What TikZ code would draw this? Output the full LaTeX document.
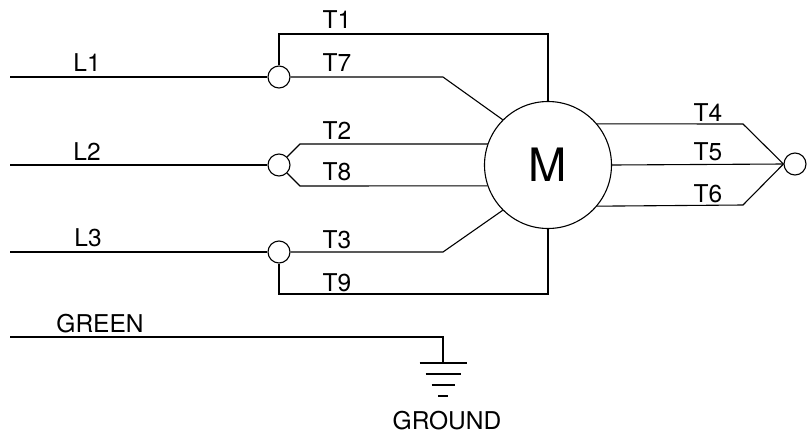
\documentclass[tikz,border=0pt]{standalone}
\usepackage{fontspec}
\setmainfont{TeX Gyre Heros}
\usepackage{tikz}
\tikzset{
	term/.style={circle, draw, inner sep=0pt, minimum size=22pt},
	lbl/.style={font=\fontsize{24.5}{28}\selectfont, inner sep=0pt},
}

\begin{document}
\begin{tikzpicture}[x=1pt, y=-1pt, line width=1.1pt]
			%%%%% START %%%%%
			\useasboundingbox (0, 0) rectangle (807, 437);

			\node[circle, draw, minimum size=127pt, font=\fontsize{46}{50}\selectfont] (mot) at (548, 165) {M};

			\node[term] (c1) at (279, 77) {};
			\node[term] (c2) at (279, 165) {};
			\node[term] (c3) at (279, 252) {};
			\node[term] (c4) at (795, 164) {};

			\coordinate (l1) at (10, 77);
			\coordinate (l2) at (10, 165);
			\coordinate (l3) at (10, 252);
			\coordinate (t1) at (548, 34);
			\coordinate (t7) at (443, 77);
			\coordinate (t2) at (300, 144);
			\coordinate (t8) at (300, 186);
			\coordinate (t3) at (443, 252);
			\coordinate (t9) at (548, 294);
			\coordinate (t4) at (743, 124);
			\coordinate (t6) at (743, 205);
			\coordinate (grn) at (10, 337);
			\coordinate (gk) at (443, 337);
			\coordinate (gnd) at (443, 363);

			% lines in
			\draw (l1) -- (c1);
			\draw (l2) -- (c2);
			\draw (l3) -- (c3);

			% motor leads
			\draw (c1.north) |- (t1) -- (mot.north);
			\draw (c1.east) -- (t7) -- (mot.135);
			\draw (c2.45) -- (t2) -- (t2 -| mot.161) -- (mot.161);
			\draw (c2.-45) -- (t8) -- (mot.199);
			\draw (c3.east) -- (t3) -- (mot.225);
			\draw (c3.south) |- (t9) -- (mot.south);
			\draw (mot.40) -- (t4) -- (c4.west);
			\draw (mot.east) -- (c4.west);
			\draw (mot.-40) -- (t6) -- (c4.west);

			% ground
			\draw (grn) -- (gk) -- (gnd);
			\draw ([xshift=-23.5pt]gnd) -- ([xshift=23.5pt]gnd);
			\draw ([xshift=-17.5pt, yshift=-11pt]gnd) -- ([xshift=17.5pt, yshift=-11pt]gnd);
			\draw ([xshift=-11.5pt, yshift=-22pt]gnd) -- ([xshift=11.5pt, yshift=-22pt]gnd);
			\draw ([xshift=-5pt, yshift=-33pt]gnd) -- ([xshift=5pt, yshift=-33pt]gnd);

			% labels
			\node[lbl] (lL1) at (87, 63) {L1};
			\node[lbl] (lL2) at (87, 152) {L2};
			\node[lbl] (lL3) at (88, 238) {L3};
			\node[lbl] (lgreen) at (100, 324) {GREEN};
			\node[lbl] (lT1) at (337, 20) {T1};
			\node[lbl] (lT7) at (337, 63) {T7};
			\node[lbl] (lT2) at (337, 131) {T2};
			\node[lbl] (lT8) at (337, 172) {T8};
			\node[lbl] (lT3) at (337, 240) {T3};
			\node[lbl] (lT9) at (337, 283) {T9};
			\node[lbl] (lT4) at (708, 113) {T4};
			\node[lbl] (lT5) at (708, 152) {T5};
			\node[lbl] (lT6) at (708, 194) {T6};
			\node[lbl] (lground) at (447, 421) {GROUND};
			%%%%% END %%%%%
\end{tikzpicture}
\end{document}
